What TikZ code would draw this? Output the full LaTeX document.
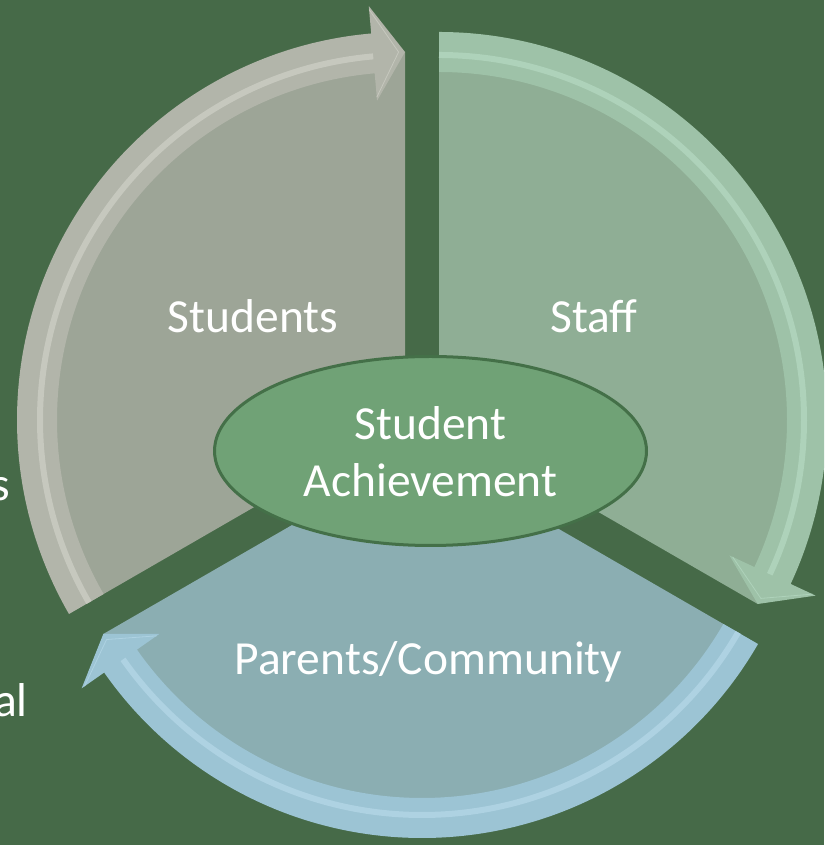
\documentclass[tikz,border=0pt]{standalone}
\usepackage{fontspec}
\setmainfont{Carlito}
\usetikzlibrary{shapes.geometric}
\definecolor{bg}{RGB}{70,106,72}
\definecolor{stuFill}{RGB}{157,165,151}
\definecolor{stuBand}{RGB}{178,181,170}
\definecolor{stuStripe}{RGB}{198,200,190}
\definecolor{stfFill}{RGB}{143,174,149}
\definecolor{stfBand}{RGB}{158,194,168}
\definecolor{stfStripe}{RGB}{174,210,186}
\definecolor{parFill}{RGB}{139,174,178}
\definecolor{parBand}{RGB}{156,196,212}
\definecolor{parStripe}{RGB}{174,210,226}
\definecolor{coreFill}{RGB}{112,162,118}
\definecolor{coreLine}{RGB}{68,112,72}
% #1 apex, #2 start angle, #3 end angle, #4 fill, #5 band, #6 stripe
\newcommand\drawsegment[6]{%
  \begin{scope}[shift={(#1)}]
    \fill[#4] (0,0) -- (#2:368) arc[start angle=#2, end angle=#3, radius=368] -- cycle;
    \fill[#5] (#2:388) arc[start angle=#2, end angle=#3+5, radius=388]
      -- (#3+5:415.5) -- (#3:368) -- (#3+5:320.5) -- (#3+5:348)
      arc[start angle=#3+5, end angle=#2, radius=348] -- cycle;
    \draw[#6, line width=6] (#2:365) arc[start angle=#2, end angle=#3+5, radius=365];
    \draw[#6, line width=0.8] (#3+5:412) -- (#3+1:368) -- (#3+5:324);
  \end{scope}}
\begin{document}
\begin{tikzpicture}[x=1pt,y=1pt,
  lbl/.style={text=white, font=\fontsize{47.5}{57}\selectfont, inner sep=0pt}]
\useasboundingbox (0,0) rectangle (824,845);
\fill[bg] (0,0) rectangle (824,845);
\clip (0,0) rectangle (824,845);
\node[lbl, anchor=base east] (frag1) at (10,344) {s};
\node[lbl, anchor=base east] (frag2) at (28,128) {al};
\drawsegment{405,425}{210}{90}{stuFill}{stuBand}{stuStripe}
\drawsegment{439,425}{90}{-30}{stfFill}{stfBand}{stfStripe}
\drawsegment{422,395}{-30}{-150}{parFill}{parBand}{parStripe}
\node[ellipse, draw=coreLine, line width=3, fill=coreFill,
      minimum width=432, minimum height=189, inner sep=0pt] (core) at (430.5,394) {};
\node[lbl, anchor=base] (core1) at (430.5,405) {Student};
\node[lbl, anchor=base] (core2) at (430.5,348) {Achievement};
\node[lbl, anchor=base] (students) at (253,512) {Students};
\node[lbl, anchor=base] (staff) at (594,512) {Staff};
\node[lbl, anchor=base] (parents) at (428.5,170) {Parents/Community};
\end{tikzpicture}
\end{document}
